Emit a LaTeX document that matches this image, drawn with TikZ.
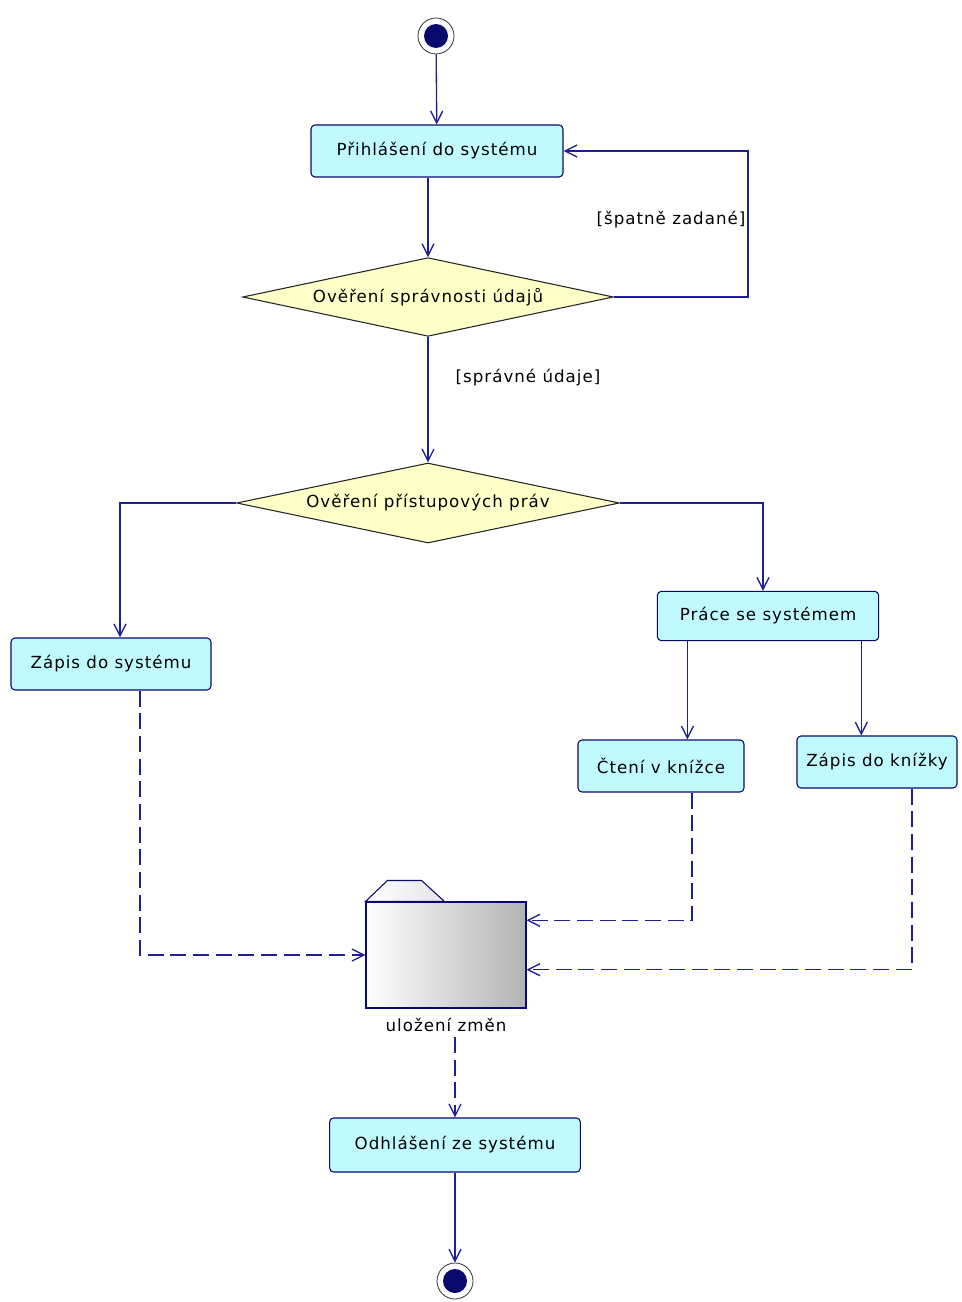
\documentclass[tikz,border=0pt]{standalone}
\usepackage{fontspec}
\setmainfont{DejaVu Sans}[LetterSpace=6]
\usetikzlibrary{arrows.meta,positioning,shapes.geometric}

\definecolor{umlline}{RGB}{30,30,150}
\definecolor{umlnavy}{RGB}{10,10,110}
\definecolor{actfill}{RGB}{192,250,255}
\definecolor{decfill}{RGB}{255,255,200}

\begin{document}
\begin{tikzpicture}[
  x=0.75pt, y=-0.75pt,
  font=\fontsize{12.5}{14}\selectfont,
  activity/.style={draw=umlnavy, thick, fill=actfill, rounded corners=3pt, minimum height=39pt, inner sep=3pt},
  decision/.style={diamond, draw=black!85, thick, fill=decfill, aspect=4.7, inner sep=0pt},
  endpoint/.style={circle, draw=black!80, semithick, fill=white, minimum size=27pt, inner sep=0pt,
    path picture={\fill[umlnavy] (path picture bounding box.center) circle (9pt);}},
  flow/.style={umlline, line width=1pt, -{Straight Barb[length=9pt, width=9pt]}},
  dep/.style={flow, dash pattern=on 12pt off 5pt},
]
\useasboundingbox (0,0) rectangle (961,1302);

% ===== Login and verification =====
\node[endpoint] (start) at (436,36) {};
\node[activity, minimum width=189pt] (login) at (437,151) {Přihlášení do systému};
\node[decision, minimum width=278pt, minimum height=59pt] (check) at (428,297) {Ověření správnosti údajů};
\node[decision, minimum width=287pt, minimum height=60pt] (access) at (428,503) {Ověření přístupových práv};

\draw[flow] (start) -- (login);
\draw[flow] (login.south -| check.north) -- (check.north);
\draw[flow] (check.east) -- ++(134,0) |- (login.east);
\node (badlbl) at (671,220) {[špatně zadané]};
\draw[flow] (check.south) -- (access.north);
\node (oklbl) at (528,378) {[správné údaje]};

% ===== Work with the system =====
\node[activity, minimum width=150pt] (entry) at (111,664) {Zápis do systému};
\node[activity, minimum width=166pt, minimum height=37pt] (work) at (768,616) {Práce se systémem};
\node[activity, minimum width=124.5pt] (read) at (661,766) {Čtení v knížce};
\node[activity, minimum width=120pt] (bookw) at (877,762) {Zápis do knížky};

\draw[flow] (access.west) -| ([xshift=6.75pt]entry.north);
\draw[flow] (access.east) -| ([xshift=-3.75pt]work.north);
\draw[flow] ([xshift=-60.4pt]work.south) -- ([xshift=-60.4pt]work.south |- read.north);
\draw[flow] ([xshift=70pt]work.south) -- ([xshift=70pt]work.south |- bookw.north);

% ===== Stored changes (object) =====
\node[draw=umlnavy, thick, left color=white, right color=gray!60, minimum width=120pt, minimum height=79.5pt,
      inner sep=0pt] (store) at (446,955) {};
\draw[umlnavy, thick, left color=white, right color=gray!20] (store.north west) -- ++(22,-21) -- ++(34,0) -- ++(23,21) -- cycle;
\node[below=4pt of store] (storelbl) {uložení změn};

\draw[dep] ([xshift=21.75pt]entry.south) |- (store.west);
\draw[dep] ([xshift=23.25pt]read.south) |- ([yshift=26pt]store.east);
\draw[dep] ([xshift=26.25pt]bookw.south) |- ([yshift=-11pt]store.east);

% ===== Logout =====
\node[activity, minimum width=188pt, minimum height=40.5pt] (logout) at (455,1145) {Odhlášení ze systému};
\node[endpoint] (stop) at (455,1281) {};

\draw[dep] (storelbl.south -| logout.north) -- (logout.north);
\draw[flow] (logout) -- (stop);

\end{tikzpicture}
\end{document}
